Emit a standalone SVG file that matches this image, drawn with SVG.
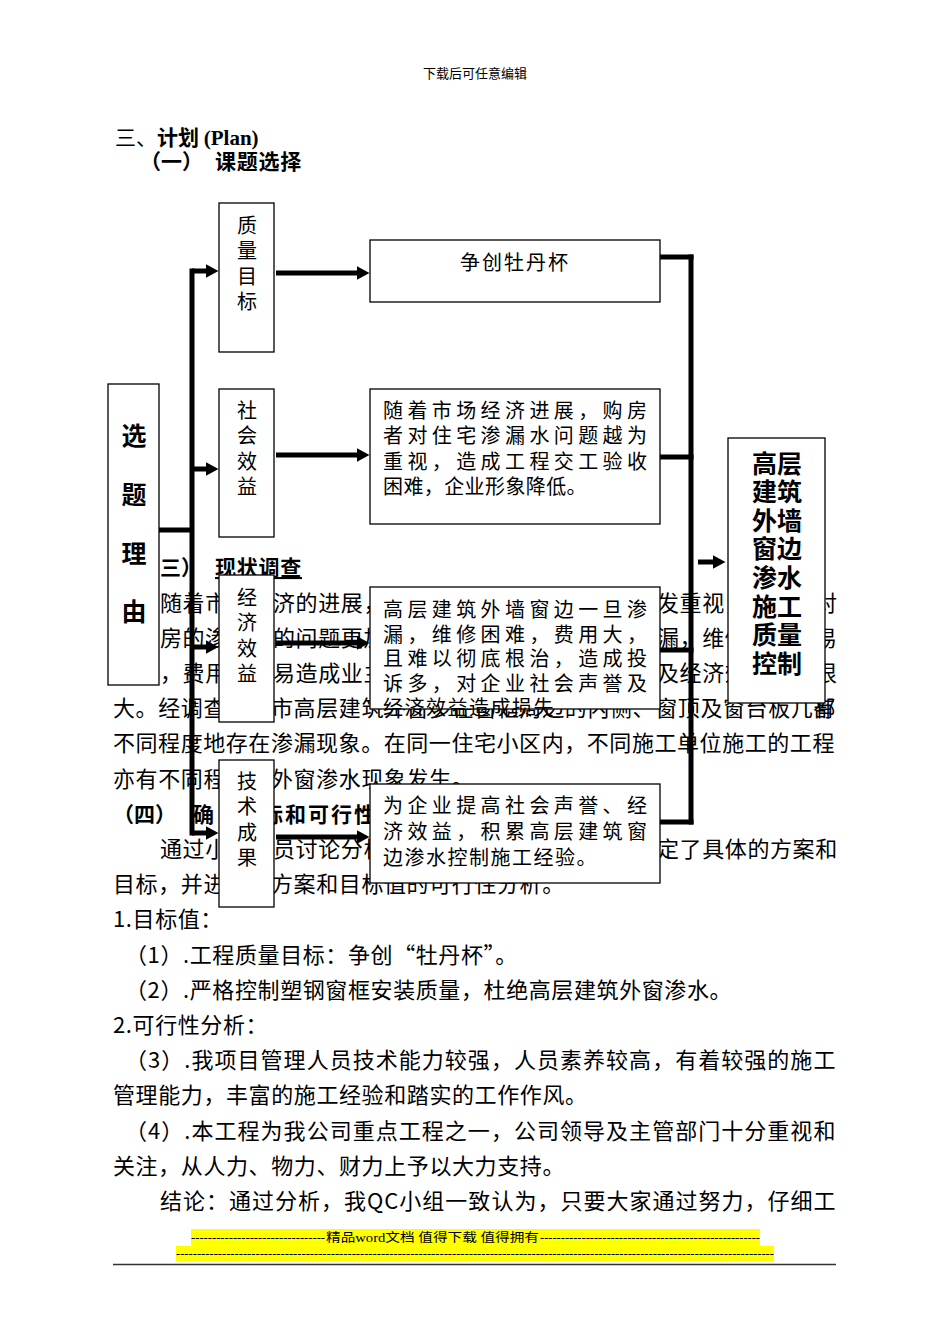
<svg xmlns="http://www.w3.org/2000/svg" width="950" height="1344" viewBox="0 0 950 1344">
<defs>
<style>
text{font-family:"Noto Sans CJK SC",sans-serif;fill:#000}
.t{font-size:22px;letter-spacing:0.6px}
.h{font-size:21px;font-weight:bold}
.bx{fill:#fff;stroke:#000;stroke-width:1.3}
.v{font-size:20px;text-anchor:middle}
.bt{font-size:20px}
.bb{font-size:25px;font-weight:bold;text-anchor:middle}
.c{fill:none;stroke:#000;stroke-width:5}
.sm{font-family:"Liberation Serif","Noto Sans CJK SC",serif;font-size:12.5px}
</style>
<marker id="ah" markerUnits="userSpaceOnUse" markerWidth="14" markerHeight="14" refX="0.5" refY="7" orient="auto"><path d="M0,0 L13,7 L0,14 z" fill="#000"/></marker>
</defs>
<rect width="950" height="1344" fill="#fff"/>

<g id="page-text">
<text class="sm" x="475" y="78" text-anchor="middle" fill="#333" style="font-size:13px">下载后可任意编辑</text>
<text class="h" x="115" y="145"><tspan font-weight="normal">三、</tspan>计划 <tspan font-family="Liberation Serif">(Plan)</tspan></text>
<text class="h" x="140" y="169">（一）</text>
<text class="h" x="215" y="169" letter-spacing="0.75">课题选择</text>

<text class="h" x="160" y="575">三）</text>
<text class="h" x="215" y="575" letter-spacing="0.75" text-decoration="underline">现状调查</text>

<text class="t" x="160" y="610.6">随着市</text>
<text class="t" x="273" y="610.6">济的进展，</text>
<text class="t" x="657" y="610.6">发重视，</text>
<text class="t" x="815" y="610.6">对</text>

<text class="t" x="160" y="645.8">房的渗</text>
<text class="t" x="273" y="645.8">的问题更加</text>
<text class="t" x="657" y="645.8">漏，维修</text>
<text class="t" x="815" y="645.8">易</text>

<text class="t" x="160" y="681">，费用</text>
<text class="t" x="273" y="681">易造成业主</text>
<text class="t" x="657" y="681">及经济效</text>
<text class="t" x="815" y="681">很</text>

<text class="t" x="113" y="716.2">大。经调查</text>
<text class="t" x="271" y="716.2">市高层建筑外窗多在窗框周边的内侧、窗顶及窗台板几部</text>
<text class="t" x="813" y="716.2">有</text>

<text class="t" x="113" y="751.4" textLength="722" lengthAdjust="spacing">不同程度地存在渗漏现象。在同一住宅小区内，不同施工单位施工的工程</text>

<text class="t" x="113" y="786.6">亦有不同程</text>
<text class="t" x="271" y="786.6">外窗渗水现象发生。</text>

<text class="h" x="113" y="821.6">（四）</text>
<text class="h" x="193" y="821.6">确</text>
<text class="h" x="262" y="821.6" letter-spacing="2">标和可行性</text>

<text class="t" x="160" y="857">通过小</text>
<text class="t" x="273" y="857">员讨论分析</text>
<text class="t" x="657" y="857">定了具体的方案和</text>

<text class="t" x="113" y="892.2">目标，并进</text>
<text class="t" x="271" y="892.2">方案和目标值的可行性分析。</text>

<text class="t" x="113" y="927.4">1.目标值：</text>
<text class="t" x="125" y="962.6">（1）.工程质量目标：争创“牡丹杯”。</text>
<text class="t" x="125" y="997.8">（2）.严格控制塑钢窗框安装质量，杜绝高层建筑外窗渗水。</text>
<text class="t" x="113" y="1033">2.可行性分析：</text>
<text class="t" x="125" y="1068.2" textLength="711" lengthAdjust="spacing">（3）.我项目管理人员技术能力较强，人员素养较高，有着较强的施工</text>
<text class="t" x="113" y="1103.4">管理能力，丰富的施工经验和踏实的工作作风。</text>
<text class="t" x="125" y="1138.6" textLength="711" lengthAdjust="spacing">（4）.本工程为我公司重点工程之一，公司领导及主管部门十分重视和</text>
<text class="t" x="113" y="1173.8">关注，从人力、物力、财力上予以大力支持。</text>
<text class="t" x="160" y="1209" textLength="676" lengthAdjust="spacing">结论：通过分析，我QC小组一致认为，只要大家通过努力，仔细工</text>
</g>

<g id="node-zhiliang">
<rect class="bx" x="219" y="203" width="55" height="149"/>
<text class="v" x="247" y="232.6">质</text>
<text class="v" x="247" y="258.1">量</text>
<text class="v" x="247" y="283.6">目</text>
<text class="v" x="247" y="309.1">标</text>
</g>
<g id="node-mudan">
<rect class="bx" x="370" y="240" width="290" height="62"/>
<text class="bt" x="515" y="269.6" text-anchor="middle" letter-spacing="2">争创牡丹杯</text>
</g>
<g id="node-shehui">
<rect class="bx" x="219" y="389" width="55" height="148"/>
<text class="v" x="247" y="417.6">社</text>
<text class="v" x="247" y="443.1">会</text>
<text class="v" x="247" y="468.6">效</text>
<text class="v" x="247" y="494.1">益</text>
</g>
<g id="node-suizhe">
<rect class="bx" x="370" y="389" width="290" height="135"/>
<text class="bt" x="383" y="417.6" textLength="264" lengthAdjust="spacing">随着市场经济进展，购房</text>
<text class="bt" x="383" y="443.1" textLength="264" lengthAdjust="spacing">者对住宅渗漏水问题越为</text>
<text class="bt" x="383" y="468.6" textLength="264" lengthAdjust="spacing">重视，造成工程交工验收</text>
<text class="bt" x="383" y="494.1" letter-spacing="0.4">困难，企业形象降低。</text>
</g>
<g id="node-xuanti">
<rect class="bx" x="108" y="384" width="51" height="301"/>
<text class="bb" x="134" y="444.5">选</text>
<text class="bb" x="134" y="503.5">题</text>
<text class="bb" x="134" y="562.5">理</text>
<text class="bb" x="134" y="620.5">由</text>
</g>
<g id="node-target">
<rect class="bx" x="728" y="438" width="97" height="265"/>
<text class="bb" x="777" y="472.5">高层</text>
<text class="bb" x="777" y="501.1">建筑</text>
<text class="bb" x="777" y="529.7">外墙</text>
<text class="bb" x="777" y="558.3">窗边</text>
<text class="bb" x="777" y="586.9">渗水</text>
<text class="bb" x="777" y="615.5">施工</text>
<text class="bb" x="777" y="644.1">质量</text>
<text class="bb" x="777" y="672.7">控制</text>
</g>
<g id="node-jingji">
<rect class="bx" x="219" y="575" width="55" height="147"/>
<text class="v" x="247" y="604.6">经</text>
<text class="v" x="247" y="630.1">济</text>
<text class="v" x="247" y="655.6">效</text>
<text class="v" x="247" y="681.1">益</text>
</g>
<g id="node-sunshi">
<rect class="bx" x="370" y="587" width="290" height="122"/>
<text class="bt" x="383" y="617.1" textLength="264" lengthAdjust="spacing">高层建筑外墙窗边一旦渗</text>
<text class="bt" x="383" y="641.6" textLength="264" lengthAdjust="spacing">漏，维修困难，费用大，</text>
<text class="bt" x="383" y="666.1" textLength="264" lengthAdjust="spacing">且难以彻底根治，造成投</text>
<text class="bt" x="383" y="690.6" textLength="264" lengthAdjust="spacing">诉多，对企业社会声誉及</text>
<text class="bt" x="383" y="715.1" letter-spacing="1.5">经济效益造成损失</text>
</g>
<g id="node-jishu">
<rect class="bx" x="219" y="760" width="55" height="147"/>
<text class="v" x="247" y="788.6">技</text>
<text class="v" x="247" y="814.1">术</text>
<text class="v" x="247" y="839.6">成</text>
<text class="v" x="247" y="865.1">果</text>
</g>
<g id="node-jingyan">
<rect class="bx" x="370" y="784" width="290" height="99"/>
<text class="bt" x="383" y="812.6" textLength="264" lengthAdjust="spacing">为企业提高社会声誉、经</text>
<text class="bt" x="383" y="838.6" textLength="264" lengthAdjust="spacing">济效益，积累高层建筑窗</text>
<text class="bt" x="383" y="864.6" letter-spacing="1.5">边渗水控制施工经验。</text>
</g>

<g id="connectors" class="c">
<path d="M159,530 H192"/>
<path d="M192,268.5 V835.5"/>
<path d="M192,271 H206" marker-end="url(#ah)"/>
<path d="M192,469 H206" marker-end="url(#ah)"/>
<path d="M192,647 H206" marker-end="url(#ah)"/>
<path d="M192,833 H206" marker-end="url(#ah)"/>
<path d="M276,273 H357" marker-end="url(#ah)"/>
<path d="M276,455 H357" marker-end="url(#ah)"/>
<path d="M276,643 H357" marker-end="url(#ah)"/>
<path d="M276,837 H357" marker-end="url(#ah)"/>
<path d="M660,257 H693.5"/>
<path d="M660,457 H693.5"/>
<path d="M660,650 H693.5"/>
<path d="M660,822 H693.5"/>
<path d="M691,254.5 V824.5"/>
<path d="M698,562 H713" marker-end="url(#ah)"/>
</g>

<g id="footer">
<rect x="191" y="1229" width="569" height="16" fill="#ffff00"/>
<rect x="176" y="1246" width="598" height="15" fill="#ffff00"/>
<text class="sm" x="191" y="1242" textLength="134" lengthAdjust="spacingAndGlyphs">--------------------------------</text>
<text class="sm" x="326" y="1242" textLength="213" lengthAdjust="spacingAndGlyphs">精品word文档 值得下载 值得拥有</text>
<text class="sm" x="540" y="1242" textLength="220" lengthAdjust="spacingAndGlyphs">-----------------------------------------------------</text>
<text class="sm" x="176" y="1258" textLength="598" lengthAdjust="spacingAndGlyphs">-----------------------------------------------------------------------------------------------------------------------------------------------</text>
<line x1="113" y1="1264.5" x2="836" y2="1264.5" stroke="#333" stroke-width="1.5"/>
</g>
</svg>
